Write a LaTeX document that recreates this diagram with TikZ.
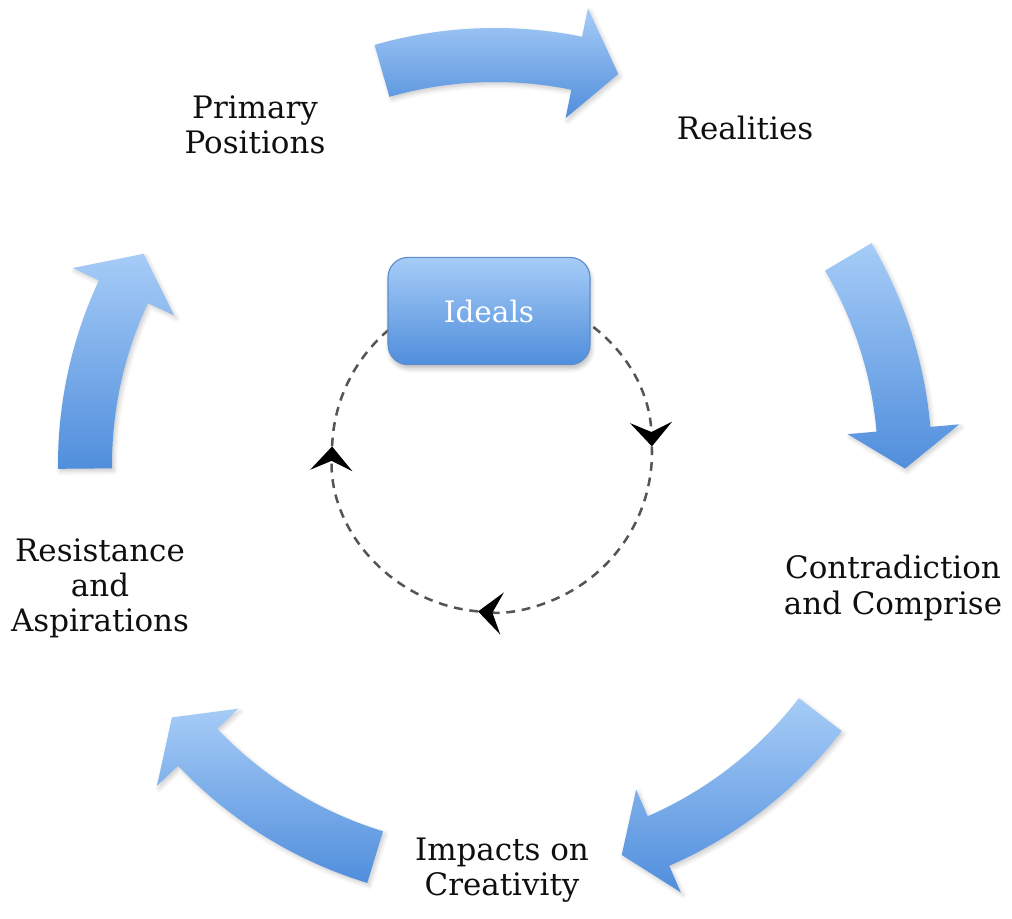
\documentclass[tikz,border=0pt]{standalone}
\usepackage{fontspec}
\setmainfont{DejaVu Serif}
\usetikzlibrary{arrows.meta,shadows.blur}
\definecolor{cyclelight}{RGB}{166,204,247}
\definecolor{cycledark}{RGB}{80,142,220}
\definecolor{boxedge}{RGB}{96,140,204}
\definecolor{labeltext}{RGB}{15,15,15}
\definecolor{loopgray}{RGB}{85,85,85}
\tikzset{
  cyclearrow/.style={top color=cyclelight, bottom color=cycledark, draw=none,
    blur shadow={shadow xshift=1.5pt, shadow yshift=-2pt, shadow blur radius=3pt, shadow opacity=20}},
  stage/.style={align=center, text=labeltext, font=\fontsize{22}{25}\selectfont},
  idealbox/.style={rectangle, rounded corners=0.5cm, minimum width=5.05cm, minimum height=2.68cm,
    top color=cyclelight, bottom color=cycledark, draw=boxedge, line width=0.8pt,
    text=white, font=\fontsize{21}{24}\selectfont,
    blur shadow={shadow xshift=1pt, shadow yshift=-3pt, shadow blur radius=3pt, shadow opacity=25}},
  loopline/.style={draw=loopgray, line width=1.8pt, dash pattern=on 0.22cm off 0.17cm,
    -{Stealth[length=0.6cm, width=1.05cm, inset=0.24cm, black]}}
}
% one bent arrow of the outer cycle: tail angle, head base angle, tip angle
\newcommand{\stagearrow}[3]{%
  \path[cyclearrow] (#1:437) arc[start angle=#1, end angle=#2, radius=437]
    -- (#2:466) -- (#3:410) -- (#2:354) -- (#2:383)
    arc[start angle=#2, end angle=#1, radius=383] -- cycle;}
\begin{document}
\begin{tikzpicture}[x=0.025cm, y=-0.025cm]
  \useasboundingbox (0,0) rectangle (1012,919);

  \begin{scope}[shift={(495,465)}]
    \stagearrow{-106}{-78.5}{-72.5}
    \stagearrow{-30.5}{-5}{0.5}
    \stagearrow{37.5}{66.5}{72}
    \stagearrow{107}{136.5}{142}
    \stagearrow{179.5}{205}{211}
  \end{scope}

  \coordinate (loop) at (492,452);
  \draw[loopline] (loop) ++(-90:160) arc[start angle=-90, end angle=-2, radius=160];
  \draw[loopline] (loop) ++(-2:160) arc[start angle=-2, end angle=95, radius=160];
  \draw[loopline] (loop) ++(95:160) arc[start angle=95, end angle=182, radius=160];
  \draw[loopline, -] (loop) ++(182:160) arc[start angle=182, end angle=270, radius=160];

  \node[idealbox] (ideals) at (489,311) {Ideals};

  \node[stage] (primary) at (255,125) {Primary\\Positions};
  \node[stage] (realities) at (745,128) {Realities};
  \node[stage] (contra) at (893,588) {Contradiction\\and Comprise};
  \node[stage] (impacts) at (502,870) {Impacts on\\Creativity};
  \node[stage] (resist) at (100,588) {Resistance\\and\\Aspirations};
\end{tikzpicture}
\end{document}
